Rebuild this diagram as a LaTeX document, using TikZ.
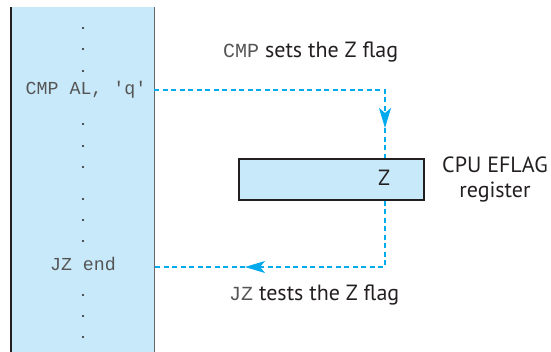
\documentclass[tikz,border=0pt]{standalone}
\usepackage{fontspec}
\setmainfont{PT Sans}
\setmonofont{Liberation Mono}
\usetikzlibrary{arrows.meta, positioning, calc}
\definecolor{regblue}{RGB}{200,233,249}
\definecolor{flowcyan}{RGB}{0,170,236}
\definecolor{inkdark}{RGB}{35,31,32}
\definecolor{codegray}{RGB}{85,85,85}

\begin{document}
\begin{tikzpicture}[
    x=1pt, y=-1pt,
    >={Stealth[length=20pt, width=12pt, inset=5pt]},
    code/.style={font=\ttfamily\fontsize{18.3}{22}\selectfont, text=codegray, inner sep=0pt},
    dot/.style={circle, fill=inkdark, inner sep=0pt, minimum size=2.2pt},
    label/.style={font=\fontsize{22}{25}\selectfont, text=inkdark, align=center, inner sep=0pt},
    flow/.style={flowcyan, dashed, dash pattern=on 5pt off 3.5pt, line width=1.1pt},
]
    \useasboundingbox (0,0) rectangle (551,351);

    % program column
    \node[fill=regblue, inner sep=0pt, minimum width=143pt, minimum height=345pt, anchor=north west] (col) at (11,7) {};
    \draw[inkdark, line width=2.4pt] (col.north west) -- (col.south west);
    \draw[gray!80!black, line width=1.4pt] (col.north east) -- (col.south east);

    \node[code] (cmp) at (86,90) {CMP AL, 'q'};
    \node[code] (jz) at (83,264) {JZ end};
    \foreach \y [count=\i] in {28,49,71,124,146,167,199,220,241,295,316,337}
        \node[dot] (d\i) at (83,\y) {};

    % flag register
    \node[draw=inkdark, line width=1.6pt, fill=regblue, minimum width=185pt, minimum height=41pt, anchor=north west] (reg) at (238,158) {};
    \node[label] (zbit) at (384,178) {Z};
    \node[label, anchor=west] (regname) at (442,179) {CPU EFLAG\\register};

    % captions
    \node[label, anchor=west] (setcap) at (223,52) {{\ttfamily\fontsize{20}{22}\selectfont\color{codegray}CMP} sets the Z flag};
    \node[label, anchor=west] (testcap) at (229,295) {{\ttfamily\fontsize{20}{22}\selectfont\color{codegray}JZ} tests the Z flag};

    % flag flow
    \coordinate (setarr) at (385,128);
    \coordinate (testarr) at (245,267);
    \draw[flow, ->] (col.east |- cmp) -| (setarr);
    \draw[flow] (setarr) -- (reg.north -| setarr);
    \draw[flow, ->] (reg.south -| setarr) |- (testarr);
    \draw[flow] (testarr) -- (col.east |- testarr);
\end{tikzpicture}
\end{document}
